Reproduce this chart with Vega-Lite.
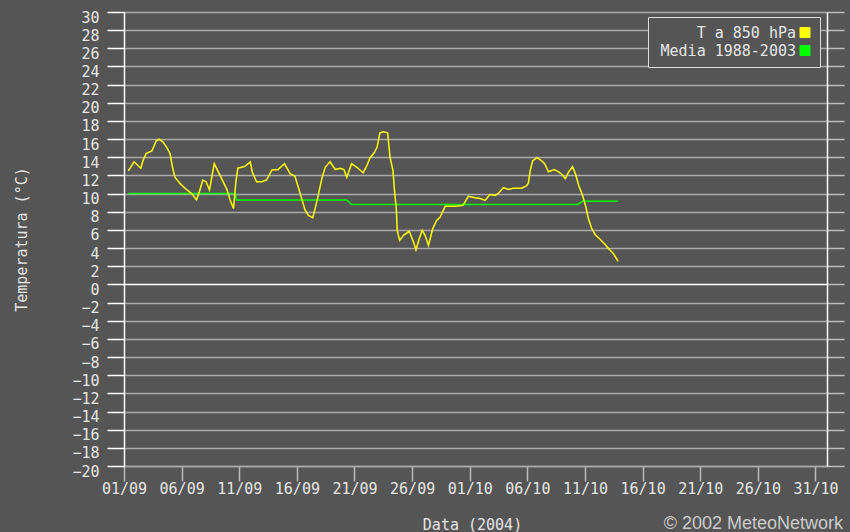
{
  "$schema": "https://vega.github.io/schema/vega-lite/v6.json",
  "width": 703,
  "height": 454,
  "autosize": {"type": "none"},
  "padding": {"left": 124, "top": 12, "right": 23, "bottom": 66},
  "background": "#555555",
  "config": {"view": {"stroke": null}, "font": "DejaVu Sans Mono"},
  "title": {"text": "© 2002 MeteoNetwork", "orient": "bottom", "anchor": "end", "frame": "group", "font": "Liberation Sans", "fontSize": 18, "fontWeight": "normal", "color": "#cccccc", "dx": 16, "offset": -17},
  "data": {"values": [
    {"serie": "Media 1988-2003", "data": "2004-09-01T09:00:00Z", "temp": 10.0},
    {"serie": "Media 1988-2003", "data": "2004-09-10T16:00:00Z", "temp": 10.0},
    {"serie": "Media 1988-2003", "data": "2004-09-10T18:00:00Z", "temp": 9.3},
    {"serie": "Media 1988-2003", "data": "2004-09-20T08:00:00Z", "temp": 9.3},
    {"serie": "Media 1988-2003", "data": "2004-09-20T18:00:00Z", "temp": 8.8},
    {"serie": "Media 1988-2003", "data": "2004-10-10T09:00:00Z", "temp": 8.8},
    {"serie": "Media 1988-2003", "data": "2004-10-10T19:00:00Z", "temp": 9.15},
    {"serie": "Media 1988-2003", "data": "2004-10-13T21:00:00Z", "temp": 9.15},
    {"serie": "T a 850 hPa", "data": "2004-09-01T09:00:00Z", "temp": 12.5},
    {"serie": "T a 850 hPa", "data": "2004-09-01T21:00:00Z", "temp": 13.5},
    {"serie": "T a 850 hPa", "data": "2004-09-02T11:00:00Z", "temp": 12.8},
    {"serie": "T a 850 hPa", "data": "2004-09-02T16:00:00Z", "temp": 13.7},
    {"serie": "T a 850 hPa", "data": "2004-09-02T22:00:00Z", "temp": 14.4},
    {"serie": "T a 850 hPa", "data": "2004-09-03T10:00:00Z", "temp": 14.7},
    {"serie": "T a 850 hPa", "data": "2004-09-03T19:00:00Z", "temp": 15.8},
    {"serie": "T a 850 hPa", "data": "2004-09-04T01:00:00Z", "temp": 16.0},
    {"serie": "T a 850 hPa", "data": "2004-09-04T09:00:00Z", "temp": 15.7},
    {"serie": "T a 850 hPa", "data": "2004-09-04T17:00:00Z", "temp": 15.1},
    {"serie": "T a 850 hPa", "data": "2004-09-05T00:00:00Z", "temp": 14.4},
    {"serie": "T a 850 hPa", "data": "2004-09-05T05:00:00Z", "temp": 12.9},
    {"serie": "T a 850 hPa", "data": "2004-09-05T10:00:00Z", "temp": 11.8},
    {"serie": "T a 850 hPa", "data": "2004-09-05T21:00:00Z", "temp": 11.1},
    {"serie": "T a 850 hPa", "data": "2004-09-06T11:00:00Z", "temp": 10.4},
    {"serie": "T a 850 hPa", "data": "2004-09-06T21:00:00Z", "temp": 10.0},
    {"serie": "T a 850 hPa", "data": "2004-09-07T07:00:00Z", "temp": 9.3},
    {"serie": "T a 850 hPa", "data": "2004-09-07T13:00:00Z", "temp": 10.2},
    {"serie": "T a 850 hPa", "data": "2004-09-07T20:00:00Z", "temp": 11.5},
    {"serie": "T a 850 hPa", "data": "2004-09-08T03:00:00Z", "temp": 11.3},
    {"serie": "T a 850 hPa", "data": "2004-09-08T10:00:00Z", "temp": 10.4},
    {"serie": "T a 850 hPa", "data": "2004-09-08T20:00:00Z", "temp": 13.3},
    {"serie": "T a 850 hPa", "data": "2004-09-09T08:00:00Z", "temp": 12.0},
    {"serie": "T a 850 hPa", "data": "2004-09-09T22:00:00Z", "temp": 10.5},
    {"serie": "T a 850 hPa", "data": "2004-09-10T05:00:00Z", "temp": 9.3},
    {"serie": "T a 850 hPa", "data": "2004-09-10T12:00:00Z", "temp": 8.35},
    {"serie": "T a 850 hPa", "data": "2004-09-10T17:00:00Z", "temp": 11.3},
    {"serie": "T a 850 hPa", "data": "2004-09-10T21:00:00Z", "temp": 12.8},
    {"serie": "T a 850 hPa", "data": "2004-09-11T12:00:00Z", "temp": 13.0},
    {"serie": "T a 850 hPa", "data": "2004-09-11T23:00:00Z", "temp": 13.5},
    {"serie": "T a 850 hPa", "data": "2004-09-12T03:00:00Z", "temp": 12.4},
    {"serie": "T a 850 hPa", "data": "2004-09-12T12:00:00Z", "temp": 11.3},
    {"serie": "T a 850 hPa", "data": "2004-09-12T23:00:00Z", "temp": 11.3},
    {"serie": "T a 850 hPa", "data": "2004-09-13T09:00:00Z", "temp": 11.5},
    {"serie": "T a 850 hPa", "data": "2004-09-13T20:00:00Z", "temp": 12.6},
    {"serie": "T a 850 hPa", "data": "2004-09-14T09:00:00Z", "temp": 12.65},
    {"serie": "T a 850 hPa", "data": "2004-09-14T22:00:00Z", "temp": 13.3},
    {"serie": "T a 850 hPa", "data": "2004-09-15T10:00:00Z", "temp": 12.2},
    {"serie": "T a 850 hPa", "data": "2004-09-15T20:00:00Z", "temp": 11.9},
    {"serie": "T a 850 hPa", "data": "2004-09-16T03:00:00Z", "temp": 10.7},
    {"serie": "T a 850 hPa", "data": "2004-09-16T10:00:00Z", "temp": 9.45},
    {"serie": "T a 850 hPa", "data": "2004-09-16T17:00:00Z", "temp": 8.2},
    {"serie": "T a 850 hPa", "data": "2004-09-17T00:00:00Z", "temp": 7.6},
    {"serie": "T a 850 hPa", "data": "2004-09-17T09:00:00Z", "temp": 7.35},
    {"serie": "T a 850 hPa", "data": "2004-09-17T14:00:00Z", "temp": 8.35},
    {"serie": "T a 850 hPa", "data": "2004-09-17T19:00:00Z", "temp": 9.45},
    {"serie": "T a 850 hPa", "data": "2004-09-18T04:00:00Z", "temp": 11.65},
    {"serie": "T a 850 hPa", "data": "2004-09-18T11:00:00Z", "temp": 12.9},
    {"serie": "T a 850 hPa", "data": "2004-09-18T21:00:00Z", "temp": 13.5},
    {"serie": "T a 850 hPa", "data": "2004-09-19T08:00:00Z", "temp": 12.65},
    {"serie": "T a 850 hPa", "data": "2004-09-19T18:00:00Z", "temp": 12.8},
    {"serie": "T a 850 hPa", "data": "2004-09-20T02:00:00Z", "temp": 12.65},
    {"serie": "T a 850 hPa", "data": "2004-09-20T08:00:00Z", "temp": 11.8},
    {"serie": "T a 850 hPa", "data": "2004-09-20T18:00:00Z", "temp": 13.3},
    {"serie": "T a 850 hPa", "data": "2004-09-21T05:00:00Z", "temp": 12.9},
    {"serie": "T a 850 hPa", "data": "2004-09-21T18:00:00Z", "temp": 12.3},
    {"serie": "T a 850 hPa", "data": "2004-09-22T02:00:00Z", "temp": 13.1},
    {"serie": "T a 850 hPa", "data": "2004-09-22T08:00:00Z", "temp": 13.9},
    {"serie": "T a 850 hPa", "data": "2004-09-22T17:00:00Z", "temp": 14.5},
    {"serie": "T a 850 hPa", "data": "2004-09-22T23:00:00Z", "temp": 15.1},
    {"serie": "T a 850 hPa", "data": "2004-09-23T05:00:00Z", "temp": 16.7},
    {"serie": "T a 850 hPa", "data": "2004-09-23T12:00:00Z", "temp": 16.8},
    {"serie": "T a 850 hPa", "data": "2004-09-23T21:00:00Z", "temp": 16.7},
    {"serie": "T a 850 hPa", "data": "2004-09-24T02:00:00Z", "temp": 14.0},
    {"serie": "T a 850 hPa", "data": "2004-09-24T08:00:00Z", "temp": 12.6},
    {"serie": "T a 850 hPa", "data": "2004-09-24T11:00:00Z", "temp": 10.55},
    {"serie": "T a 850 hPa", "data": "2004-09-24T15:00:00Z", "temp": 8.35},
    {"serie": "T a 850 hPa", "data": "2004-09-24T17:00:00Z", "temp": 5.95},
    {"serie": "T a 850 hPa", "data": "2004-09-24T22:00:00Z", "temp": 4.85},
    {"serie": "T a 850 hPa", "data": "2004-09-25T06:00:00Z", "temp": 5.4},
    {"serie": "T a 850 hPa", "data": "2004-09-25T18:00:00Z", "temp": 5.85},
    {"serie": "T a 850 hPa", "data": "2004-09-25T23:00:00Z", "temp": 5.2},
    {"serie": "T a 850 hPa", "data": "2004-09-26T04:00:00Z", "temp": 4.5},
    {"serie": "T a 850 hPa", "data": "2004-09-26T08:00:00Z", "temp": 3.8},
    {"serie": "T a 850 hPa", "data": "2004-09-26T15:00:00Z", "temp": 5.05},
    {"serie": "T a 850 hPa", "data": "2004-09-26T21:00:00Z", "temp": 5.95},
    {"serie": "T a 850 hPa", "data": "2004-09-27T03:00:00Z", "temp": 5.4},
    {"serie": "T a 850 hPa", "data": "2004-09-27T10:00:00Z", "temp": 4.3},
    {"serie": "T a 850 hPa", "data": "2004-09-27T19:00:00Z", "temp": 6.15},
    {"serie": "T a 850 hPa", "data": "2004-09-28T03:00:00Z", "temp": 7.05},
    {"serie": "T a 850 hPa", "data": "2004-09-28T10:00:00Z", "temp": 7.4},
    {"serie": "T a 850 hPa", "data": "2004-09-28T21:00:00Z", "temp": 8.6},
    {"serie": "T a 850 hPa", "data": "2004-09-29T18:00:00Z", "temp": 8.6},
    {"serie": "T a 850 hPa", "data": "2004-09-30T10:00:00Z", "temp": 8.7},
    {"serie": "T a 850 hPa", "data": "2004-09-30T21:00:00Z", "temp": 9.7},
    {"serie": "T a 850 hPa", "data": "2004-10-01T11:00:00Z", "temp": 9.55},
    {"serie": "T a 850 hPa", "data": "2004-10-01T22:00:00Z", "temp": 9.45},
    {"serie": "T a 850 hPa", "data": "2004-10-02T08:00:00Z", "temp": 9.25},
    {"serie": "T a 850 hPa", "data": "2004-10-02T18:00:00Z", "temp": 9.9},
    {"serie": "T a 850 hPa", "data": "2004-10-03T05:00:00Z", "temp": 9.8},
    {"serie": "T a 850 hPa", "data": "2004-10-03T12:00:00Z", "temp": 10.05},
    {"serie": "T a 850 hPa", "data": "2004-10-03T22:00:00Z", "temp": 10.65},
    {"serie": "T a 850 hPa", "data": "2004-10-04T09:00:00Z", "temp": 10.45},
    {"serie": "T a 850 hPa", "data": "2004-10-04T19:00:00Z", "temp": 10.6},
    {"serie": "T a 850 hPa", "data": "2004-10-05T12:00:00Z", "temp": 10.6},
    {"serie": "T a 850 hPa", "data": "2004-10-05T22:00:00Z", "temp": 10.85},
    {"serie": "T a 850 hPa", "data": "2004-10-06T02:00:00Z", "temp": 11.15},
    {"serie": "T a 850 hPa", "data": "2004-10-06T06:00:00Z", "temp": 12.55},
    {"serie": "T a 850 hPa", "data": "2004-10-06T11:00:00Z", "temp": 13.6},
    {"serie": "T a 850 hPa", "data": "2004-10-06T20:00:00Z", "temp": 13.95},
    {"serie": "T a 850 hPa", "data": "2004-10-07T06:00:00Z", "temp": 13.6},
    {"serie": "T a 850 hPa", "data": "2004-10-07T12:00:00Z", "temp": 13.3},
    {"serie": "T a 850 hPa", "data": "2004-10-07T20:00:00Z", "temp": 12.4},
    {"serie": "T a 850 hPa", "data": "2004-10-08T08:00:00Z", "temp": 12.65},
    {"serie": "T a 850 hPa", "data": "2004-10-08T17:00:00Z", "temp": 12.4},
    {"serie": "T a 850 hPa", "data": "2004-10-09T00:00:00Z", "temp": 12.1},
    {"serie": "T a 850 hPa", "data": "2004-10-09T07:00:00Z", "temp": 11.65},
    {"serie": "T a 850 hPa", "data": "2004-10-09T14:00:00Z", "temp": 12.4},
    {"serie": "T a 850 hPa", "data": "2004-10-09T22:00:00Z", "temp": 12.95},
    {"serie": "T a 850 hPa", "data": "2004-10-10T04:00:00Z", "temp": 12.2},
    {"serie": "T a 850 hPa", "data": "2004-10-10T11:00:00Z", "temp": 10.9},
    {"serie": "T a 850 hPa", "data": "2004-10-10T19:00:00Z", "temp": 9.8},
    {"serie": "T a 850 hPa", "data": "2004-10-11T02:00:00Z", "temp": 8.5},
    {"serie": "T a 850 hPa", "data": "2004-10-11T07:00:00Z", "temp": 7.25},
    {"serie": "T a 850 hPa", "data": "2004-10-11T14:00:00Z", "temp": 6.15},
    {"serie": "T a 850 hPa", "data": "2004-10-11T21:00:00Z", "temp": 5.5},
    {"serie": "T a 850 hPa", "data": "2004-10-12T08:00:00Z", "temp": 4.95},
    {"serie": "T a 850 hPa", "data": "2004-10-12T18:00:00Z", "temp": 4.4},
    {"serie": "T a 850 hPa", "data": "2004-10-13T01:00:00Z", "temp": 3.95},
    {"serie": "T a 850 hPa", "data": "2004-10-13T11:00:00Z", "temp": 3.4},
    {"serie": "T a 850 hPa", "data": "2004-10-13T21:00:00Z", "temp": 2.55}
  ]},
  "encoding": {
    "x": {
      "field": "data", "type": "temporal",
      "scale": {"type": "utc", "nice": false, "domain": [
        {"year": 2004, "month": 9, "date": 1, "utc": true},
        {"year": 2004, "month": 11, "date": 1, "utc": true}
      ]},
      "axis": {
        "orient": "bottom",
        "values": [
          {"year": 2004, "month": 9, "date": 1, "utc": true},
          {"year": 2004, "month": 9, "date": 6, "utc": true},
          {"year": 2004, "month": 9, "date": 11, "utc": true},
          {"year": 2004, "month": 9, "date": 16, "utc": true},
          {"year": 2004, "month": 9, "date": 21, "utc": true},
          {"year": 2004, "month": 9, "date": 26, "utc": true},
          {"year": 2004, "month": 10, "date": 1, "utc": true},
          {"year": 2004, "month": 10, "date": 6, "utc": true},
          {"year": 2004, "month": 10, "date": 11, "utc": true},
          {"year": 2004, "month": 10, "date": 16, "utc": true},
          {"year": 2004, "month": 10, "date": 21, "utc": true},
          {"year": 2004, "month": 10, "date": 26, "utc": true},
          {"year": 2004, "month": 10, "date": 31, "utc": true}
        ],
        "format": "%d/%m",
        "grid": false,
        "tickSize": 15,
        "tickColor": "#bbbbbb",
        "tickWidth": 1.5,
        "domainColor": "#aaaaaa",
        "domainWidth": 1.5,
        "labelFont": "DejaVu Sans Mono",
        "labelFontSize": 15,
        "labelColor": "#e6e6e6",
        "labelPadding": 0,
        "labelOverlap": false,
        "labelFlush": false,
        "title": "Data (2004)",
        "titleFont": "DejaVu Sans Mono",
        "titleFontSize": 15,
        "titleFontWeight": "normal",
        "titleColor": "#e6e6e6",
        "titleX": 348,
        "titleY": 51,
        "titleBaseline": "top"
      }
    },
    "color": {
      "field": "serie", "type": "nominal",
      "scale": {"domain": ["T a 850 hPa", "Media 1988-2003"], "range": ["#ffff00", "#00ff00"]},
      "legend": {
        "orient": "none",
        "legendX": 524,
        "legendY": 5,
        "title": null,
        "direction": "vertical",
        "strokeColor": "#dddddd",
        "fillColor": "#555555",
        "padding": 8,
        "symbolType": "square",
        "symbolSize": 100,
        "labelFont": "DejaVu Sans Mono",
        "labelFontSize": 15,
        "labelColor": "#e6e6e6",
        "labelAlign": "right",
        "labelLimit": 300,
        "rowPadding": 2,
        "encode": {
          "symbols": {"update": {
            "x": {"value": 149},
            "fill": {"scale": "color", "field": "value"},
            "stroke": {"value": "#dddddd"},
            "strokeWidth": {"value": 1},
            "opacity": {"value": 1}
          }},
          "labels": {"update": {"x": {"value": 140}}}
        }
      }
    }
  },
  "layer": [
    {
      "transform": [{"filter": "datum.serie === 'Media 1988-2003'"}],
      "mark": {"type": "line", "strokeWidth": 1.5, "interpolate": "linear"},
      "encoding": {
        "y": {
          "field": "temp", "type": "quantitative",
          "scale": {"domain": [-20, 30], "nice": false, "zero": false},
          "axis": {
            "orient": "right",
            "values": [-20,-18,-16,-14,-12,-10,-8,-6,-4,-2,0,2,4,6,8,10,12,14,16,18,20,22,24,26,28,30],
            "grid": false,
            "labels": false,
            "tickSize": 17,
            "tickColor": "#bbbbbb",
            "tickWidth": 1.5,
            "domainColor": "#ffffff",
            "domainWidth": 1.5,
            "title": null
          }
        }
      }
    },
    {
      "transform": [{"filter": "datum.serie === 'T a 850 hPa'"}],
      "mark": {"type": "line", "strokeWidth": 1.5, "interpolate": "linear"},
      "encoding": {
        "y": {
          "field": "temp", "type": "quantitative",
          "scale": {"domain": [-20, 30], "nice": false, "zero": false},
          "axis": {
            "orient": "left",
            "values": [-20,-18,-16,-14,-12,-10,-8,-6,-4,-2,0,2,4,6,8,10,12,14,16,18,20,22,24,26,28,30],
            "grid": true,
            "gridColor": {"condition": {"test": "datum.value === 0", "value": "#ffffff"}, "value": "#aaaaaa"},
            "gridWidth": 1.5,
            "tickSize": 17,
            "tickColor": "#ffffff",
            "tickWidth": 1.5,
            "domainColor": "#ffffff",
            "domainWidth": 1.5,
            "labelFont": "DejaVu Sans Mono",
            "labelFontSize": 15,
            "labelColor": "#e6e6e6",
            "labelPadding": 8,
            "labelBaseline": "top",
            "labelOffset": -2,
            "labelOverlap": false,
            "labelFlush": false,
            "title": "Temperatura (°C)",
            "titleFont": "DejaVu Sans Mono",
            "titleFontSize": 15,
            "titleFontWeight": "normal",
            "titleColor": "#e6e6e6",
            "titleAngle": -90,
            "titleX": -98,
            "titleBaseline": "alphabetic"
          }
        }
      }
    }
  ],
  "resolve": {"axis": {"y": "independent"}}
}
